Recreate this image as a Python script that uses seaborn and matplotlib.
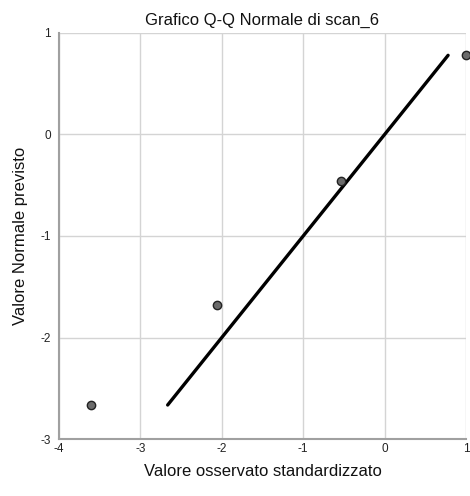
import matplotlib
matplotlib.use("Agg")
import matplotlib.pyplot as plt
import seaborn as sns
import pandas as pd

# Data
observed = [-3.61, -2.06, -0.53, 1.00]
expected = [-2.665, -1.68, -0.46, 0.78]
line_x = [-2.665, 0.78]
line_y = [-2.665, 0.78]
x_ticks = [-4, -3, -2, -1, 0, 1]
y_ticks = [-3, -2, -1, 0, 1]

sns.set_theme(style="white")
plt.rcParams['font.family'] = ['Liberation Sans', 'DejaVu Sans']
plt.rcParams['axes.unicode_minus'] = False

df = pd.DataFrame({"obs": observed, "exp": expected})
dl = pd.DataFrame({"x": line_x, "y": line_y})

fig = plt.figure(figsize=(4.7, 4.96), dpi=100)
ax = fig.add_axes([0.1255, 0.1149, 0.8660, 0.8186])

ax.set_xlim(-4, 1)
ax.set_ylim(-3, 1)
ax.set_xticks(x_ticks)
ax.set_yticks(y_ticks)
ax.grid(True, color="#d4d4d4", linewidth=1.0)
ax.set_axisbelow(True)

sns.lineplot(data=dl, x="x", y="y", ax=ax, color="black", linewidth=2.4, zorder=3)
sns.scatterplot(data=df, x="obs", y="exp", ax=ax, s=36, color="#6b6b6b",
                edgecolor="#222222", linewidth=1.0, zorder=4, clip_on=False)

for s in ["top", "right"]:
    ax.spines[s].set_visible(False)
for s in ["left", "bottom"]:
    ax.spines[s].set_color("#a0a0a0")
    ax.spines[s].set_linewidth(1.5)

ax.tick_params(axis="both", labelsize=8.5, colors="#222222", length=0)
ax.tick_params(axis="x", pad=3)
ax.tick_params(axis="y", pad=6)

ax.set_xlabel("Valore osservato standardizzato", fontsize=12, color="#111111", labelpad=6)
ax.set_ylabel("Valore Normale previsto", fontsize=12, color="#111111", labelpad=9)
ax.set_title("Grafico Q-Q Normale di scan_6", fontsize=12, color="#111111", pad=6)

fig.savefig("out.png", dpi=100)
